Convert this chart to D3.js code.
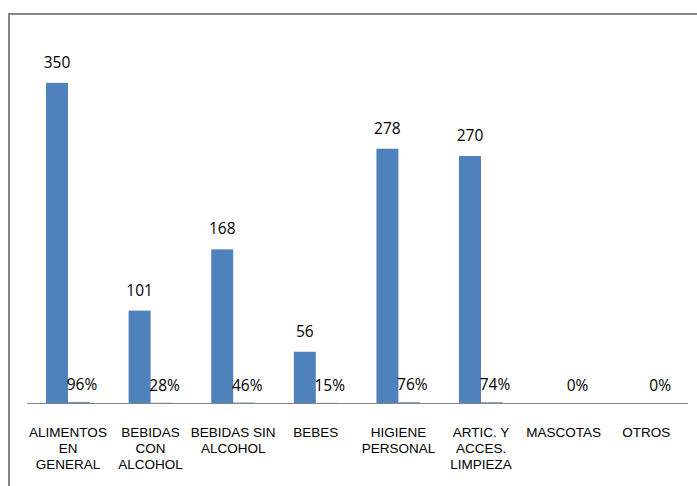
<!DOCTYPE html>
<html>
<head>
<meta charset="utf-8">
<script src="https://cdn.jsdelivr.net/npm/d3@7/dist/d3.min.js"></script>
<style>
  html, body { margin: 0; padding: 0; background: #fff; }
  svg { display: block; }
</style>
</head>
<body>
<script>
// Categories (each label broken into the lines it is drawn on)
const categories = [
  "ALIMENTOS EN GENERAL",
  "BEBIDAS CON ALCOHOL",
  "BEBIDAS SIN ALCOHOL",
  "BEBES",
  "HIGIENE PERSONAL",
  "ARTIC. Y ACCES. LIMPIEZA",
  "MASCOTAS",
  "OTROS"
];
const categoryLines = [
  ["ALIMENTOS", "EN", "GENERAL"],
  ["BEBIDAS", "CON", "ALCOHOL"],
  ["BEBIDAS SIN", "ALCOHOL"],
  ["BEBES"],
  ["HIGIENE", "PERSONAL"],
  ["ARTIC. Y", "ACCES.", "LIMPIEZA"],
  ["MASCOTAS"],
  ["OTROS"]
];
// Counts per category
const counts = [350, 101, 168, 56, 278, 270, 0, 0];
// Share per category (fraction)
const shares = [0.96, 0.28, 0.46, 0.15, 0.76, 0.74, 0, 0];

const W = 697, H = 486;
const svg = d3.select("body").append("svg").attr("width", W).attr("height", H);

// Outer chart frame
svg.append("rect")
  .attr("x", 9).attr("y", 14)
  .attr("width", 720).attr("height", 520)
  .attr("fill", "none").attr("stroke", "#868686").attr("stroke-width", 2);

const x = d3.scaleBand().domain(categories).range([26.7, 687.5]);
const sub = d3.scaleBand().domain(["count", "share"]).range([0, x.bandwidth()]).paddingOuter(0.88);
const y = d3.scaleLinear().domain([0, 375]).range([403, 60]);

const rows = categories.map((c, i) => ({ c, lines: categoryLines[i], count: counts[i], share: shares[i] }));

const blue = "#4F81BD";
const g = svg.append("g");

// Count bars
g.selectAll("rect.count").data(rows).join("rect")
  .attr("class", "count")
  .attr("x", d => x(d.c) + sub("count"))
  .attr("y", d => y(d.count))
  .attr("width", sub.bandwidth())
  .attr("height", d => y(0) - y(d.count))
  .attr("fill", blue);

// Share bars (fractions on the same axis, so they sit on the baseline)
g.selectAll("rect.share").data(rows).join("rect")
  .attr("class", "share")
  .attr("x", d => x(d.c) + sub("share"))
  .attr("y", d => y(d.share))
  .attr("width", sub.bandwidth())
  .attr("height", d => y(0) - y(d.share))
  .attr("fill", blue);

// Baseline axis
const axis = svg.append("g")
  .attr("transform", `translate(0,${y(0)})`)
  .call(d3.axisBottom(x).tickSize(0).tickFormat(""));
axis.select(".domain").attr("stroke", "#868686").attr("stroke-width", 1);

// Count labels
g.selectAll("text.count").data(rows.filter(d => d.count > 0)).join("text")
  .attr("class", "count")
  .attr("x", d => x(d.c) + sub("count") + sub.bandwidth() / 2)
  .attr("y", d => y(d.count) - 15)
  .attr("text-anchor", "middle")
  .attr("font-family", "'Open Sans', sans-serif")
  .attr("font-size", "15.5px")
  .attr("fill", "#000")
  .text(d => d.count);

// Share labels
g.selectAll("text.share").data(rows).join("text")
  .attr("class", "share")
  .attr("x", d => x(d.c) + sub("share") + sub.bandwidth() / 2 + 3)
  .attr("y", d => y(d.share) - 12)
  .attr("text-anchor", "middle")
  .attr("font-family", "'Open Sans', sans-serif")
  .attr("font-size", "15.5px")
  .attr("fill", "#000")
  .text(d => d3.format(".0%")(d.share));

// Category labels
const cl = svg.append("g").selectAll("text").data(rows).join("text")
  .attr("text-anchor", "middle")
  .attr("font-family", "'Liberation Sans', Arial, sans-serif")
  .attr("font-size", "13.5px")
  .attr("fill", "#000")
  .attr("transform", d => `translate(${x(d.c) + x.bandwidth() / 2},437)`);
cl.selectAll("tspan").data(d => d.lines).join("tspan")
  .attr("x", 0)
  .attr("y", (d, i) => i * 16)
  .text(d => d);
</script>
</body>
</html>
